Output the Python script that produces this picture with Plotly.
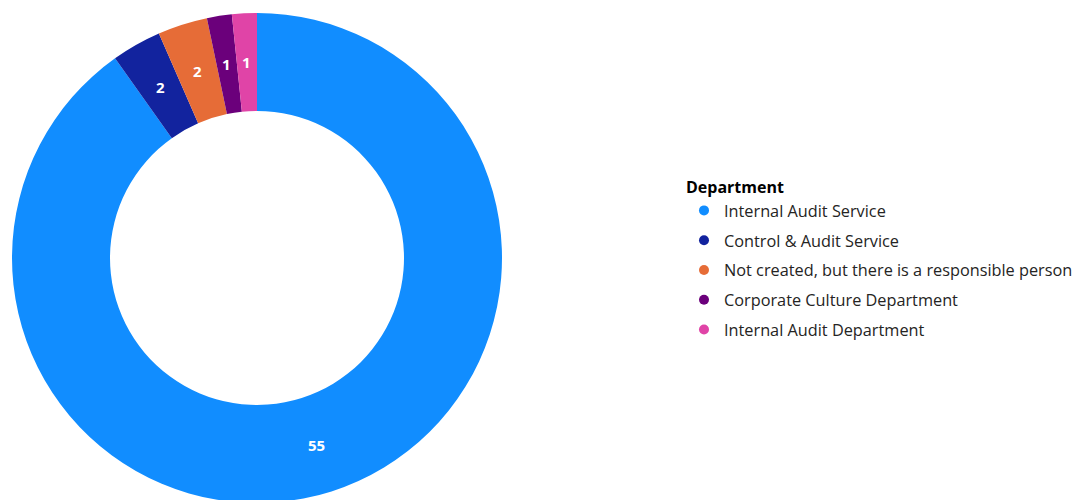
import math
import plotly.graph_objects as go

departments = ["Internal Audit Service", "Control & Audit Service",
               "Not created, but there is a responsible person",
               "Corporate Culture Department", "Internal Audit Department"]
counts = [55, 2, 2, 1, 1]
colors = ["#118DFF", "#12239E", "#E66C37", "#6B007B", "#E044A7"]

W, H = 1091, 500
MT, MB = 5, 5
PH = H - MT - MB
HOLE = 0.6
dom_x = [4 / W, 494 / W]
dom_y = [0, 1]

fig = go.Figure()
fig.add_trace(go.Pie(
    labels=departments, values=counts, sort=False, direction="clockwise",
    rotation=0, hole=HOLE, marker=dict(colors=colors),
    textinfo="none", showlegend=False, hoverinfo="none",
    domain=dict(x=dom_x, y=dom_y),
))
for d, c in zip(departments, colors):
    fig.add_trace(go.Scatter(
        x=[None], y=[None], mode="markers", name=d, legendgroup=d,
        marker=dict(color=c, size=10, symbol="circle"), hoverinfo="none"))

# value labels at the middle of each ring segment (derived from the data)
total = sum(counts)
cx = (dom_x[0] + dom_x[1]) / 2
cy = (dom_y[0] + dom_y[1]) / 2
r_out_px = PH / 2
r_mid_px = r_out_px * (1 + HOLE) / 2
cum = 0
for v in counts:
    ang = 2 * math.pi * (cum + v / 2) / total
    cum += v
    fig.add_annotation(
        x=cx + r_mid_px * math.sin(ang) / W, y=cy + r_mid_px * math.cos(ang) / PH,
        xref="paper", yref="paper", xanchor="center", yanchor="middle",
        text=f"<b>{v}</b>", showarrow=False,
        font=dict(color="white", size=15, family="Open Sans"))

fig.update_layout(
    width=W, height=H, margin=dict(l=0, r=0, t=MT, b=MB),
    paper_bgcolor="white", plot_bgcolor="white",
    xaxis=dict(visible=False), yaxis=dict(visible=False),
    font=dict(family="Segoe UI, Open Sans, sans-serif", size=16.3, color="#252423"),
    legend=dict(
        title=dict(text="<b>Department</b>", font=dict(size=16, color="black")),
        x=676 / W, xanchor="left", y=0.5 - 2 / PH, yanchor="middle",
        tracegroupgap=5.6, itemwidth=30, bgcolor="rgba(0,0,0,0)",
    ),
)
fig.write_html("out.html")
